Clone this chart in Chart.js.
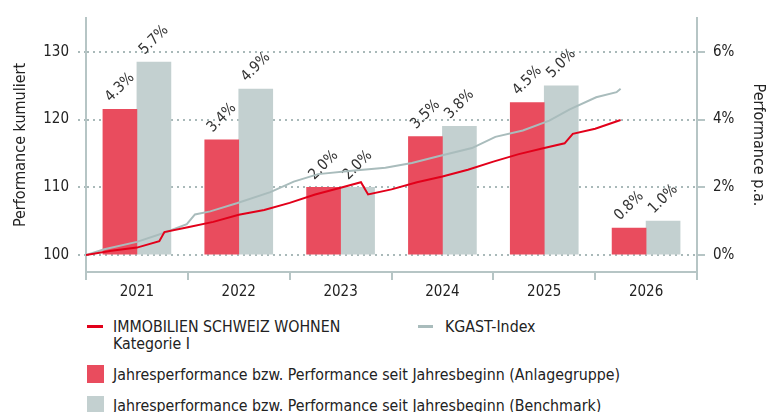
<!DOCTYPE html>
<html>
<head>
<meta charset="utf-8">
<script src="https://cdn.jsdelivr.net/npm/chart.js@4.4.1/dist/chart.umd.min.js"></script>
<style>
  body { margin: 0; background: #fff; }
  #wrap { position: relative; width: 778px; height: 412px; overflow: hidden; font-family: "DejaVu Sans Condensed", "DejaVu Sans", sans-serif; color: #222; }
  #chartbox { position: absolute; left: 0; top: 0; width: 778px; height: 300px; }
  .lg { position: absolute; font-size: 15.8px; line-height: 17px; white-space: nowrap; }
  .mark { position: absolute; }
</style>
</head>
<body>
<div id="wrap">
  <div id="chartbox"><canvas id="perf_chart"></canvas></div>
  <div id="legend"></div>
</div>
<script>
// categories and yearly performance (%)
const years = ['2021', '2022', '2023', '2024', '2025', '2026']
const fundPerf = [4.3, 3.4, 2.0, 3.5, 4.5, 0.8]
const benchPerf = [5.7, 4.9, 2.0, 3.8, 5.0, 1.0]

// cumulated performance (decimal year -> index)
const fundDates = [2021.00, 2021.25, 2021.50, 2021.72, 2021.77, 2022.00, 2022.25, 2022.50, 2022.75,
    2023.00, 2023.25, 2023.50, 2023.70, 2023.77, 2024.00, 2024.25, 2024.50, 2024.75,
    2025.00, 2025.25, 2025.50, 2025.70, 2025.78, 2026.00, 2026.25]
const fundIndex = [100.0, 100.65, 101.1, 102.05, 103.4, 104.1, 104.9, 105.95, 106.65,
    107.7, 108.95, 109.95, 110.75, 108.95, 109.7, 110.75, 111.6, 112.6,
    113.8, 114.9, 115.8, 116.5, 117.9, 118.65, 119.95]
const kgastDates = [2021.00, 2021.18, 2021.50, 2021.77, 2021.99, 2022.07, 2022.22, 2022.48, 2022.81,
    2023.04, 2023.28, 2023.61, 2023.94, 2024.20, 2024.46, 2024.79, 2025.02, 2025.29,
    2025.55, 2025.75, 2026.01, 2026.21, 2026.25]
const kgastIndex = [100.0, 100.85, 101.95, 103.3, 104.55, 106.0, 106.45, 107.65, 109.3,
    110.85, 111.95, 112.45, 112.9, 113.6, 114.6, 115.8, 117.45, 118.4,
    119.85, 121.5, 123.3, 124.05, 124.55]

const leftTicks = [100, 110, 120, 130]
const rightTicks = [0, 2, 4, 6]

const FONT = '"DejaVu Sans Condensed", "DejaVu Sans", sans-serif'
const AXIS = '#b6c5c5'
const RED_BAR = '#e94c5e'
const GREY_BAR = '#c3d0d0'
const RED_LINE = '#e2001a'
const GREY_LINE = '#a9bcbc'

Chart.defaults.font.family = FONT
Chart.defaults.color = '#222'

const toPoints = (xs, ys) => xs.map((x, i) => ({ x: x, y: ys[i] }))

// rotated % labels above each bar
const barLabels = {
    id: 'barLabels',
    afterDatasetDraw(chart, args) {
        const ds = chart.data.datasets[args.index]
        if (ds.type !== 'bar') return
        const ctx = chart.ctx
        args.meta.data.forEach((bar, i) => {
            ctx.save()
            ctx.translate(bar.x, bar.y - 22)
            ctx.rotate(-Math.PI / 4)
            ctx.font = '15px ' + FONT
            ctx.fillStyle = '#333'
            ctx.textAlign = 'center'
            ctx.textBaseline = 'middle'
            ctx.fillText(ds.data[i].toFixed(1) + '%', 0, 0)
            ctx.restore()
        })
    }
}

const perfChart = new Chart(document.getElementById('perf_chart'), {
    type: 'bar',
    data: {
        labels: years,
        datasets: [
            {
                type: 'line',
                label: 'IMMOBILIEN SCHWEIZ WOHNEN\nKategorie I',
                data: toPoints(fundDates, fundIndex),
                xAxisID: 'x2', yAxisID: 'y',
                borderColor: RED_LINE, borderWidth: 2, pointRadius: 0, order: 0
            },
            {
                type: 'line',
                label: 'KGAST-Index',
                data: toPoints(kgastDates, kgastIndex),
                xAxisID: 'x2', yAxisID: 'y',
                borderColor: GREY_LINE, borderWidth: 2, pointRadius: 0, order: 0
            },
            {
                type: 'bar',
                label: 'Jahresperformance bzw. Performance seit Jahresbeginn (Anlagegruppe)',
                data: fundPerf,
                xAxisID: 'x', yAxisID: 'y1',
                backgroundColor: RED_BAR, order: 1,
                barThickness: 34
            },
            {
                type: 'bar',
                label: 'Jahresperformance bzw. Performance seit Jahresbeginn (Benchmark)',
                data: benchPerf,
                xAxisID: 'x', yAxisID: 'y1',
                backgroundColor: GREY_BAR, order: 1,
                barThickness: 34
            }
        ]
    },
    options: {
        responsive: true,
        maintainAspectRatio: false,
        animation: false,
        layout: { padding: { top: 13 } },
        plugins: { legend: { display: false }, tooltip: { enabled: false } },
        scales: {
            x: {
                type: 'category',
                offset: true,
                grid: { offset: true, drawOnChartArea: false, tickLength: 8, color: AXIS, lineWidth: 2 },
                border: { color: AXIS, width: 2 },
                ticks: { font: { size: 15 }, padding: 3, color: '#222' },
                afterFit: scale => { scale.height = 28 }
            },
            x2: { type: 'linear', min: 2021, max: 2027, offset: false, display: false, grid: { offset: false } },
            y: {
                position: 'left',
                min: 97.5, max: 135,
                afterBuildTicks: scale => { scale.ticks = leftTicks.map(v => ({ value: v })) },
                grid: { color: '#a9b9b9', lineWidth: 2, tickLength: 8, tickBorderDash: [2, 4] },
                border: { color: AXIS, width: 2, dash: [2, 4] },
                ticks: { font: { size: 15 }, padding: 9, color: '#222' },
                title: { display: true, text: 'Performance kumuliert', font: { size: 16 }, padding: { top: 11 }, color: '#222' },
                afterFit: scale => { scale.width = 86 }
            },
            y1: {
                position: 'right',
                min: -0.5, max: 7,
                afterBuildTicks: scale => { scale.ticks = rightTicks.map(v => ({ value: v })) },
                grid: { drawOnChartArea: false, color: AXIS, lineWidth: 2, tickLength: 8 },
                border: { color: AXIS, width: 2 },
                ticks: { font: { size: 15 }, padding: 8, color: '#222', callback: v => v + '%' },
                title: { display: true, text: 'Performance p.a.', font: { size: 16 }, padding: { top: 10 }, color: '#222' },
                afterFit: scale => { scale.width = 81 }
            }
        }
    },
    plugins: [barLabels]
})

// legend below the chart, built from the datasets
const LEGEND = document.getElementById('legend')
const ds = perfChart.data.datasets
const legendItems = [
    { set: ds[0], kind: 'line', mx: 87, mw: 16, tx: 113, ty: 318 },
    { set: ds[1], kind: 'line', mx: 418, mw: 15, tx: 445, ty: 318 },
    { set: ds[2], kind: 'box', mx: 87, mw: 17, tx: 113, ty: 366 },
    { set: ds[3], kind: 'box', mx: 87, mw: 17, tx: 113, ty: 397 }
]
for (let item of legendItems) {
    let mark = document.createElement('div')
    mark.className = 'mark'
    mark.style.left = item.mx + 'px'
    mark.style.width = item.mw + 'px'
    if (item.kind === 'line') {
        mark.style.top = (item.ty + 7) + 'px'
        mark.style.height = '3px'
        mark.style.background = item.set.borderColor
    } else {
        mark.style.top = (item.ty - 1) + 'px'
        mark.style.height = '18px'
        mark.style.background = item.set.backgroundColor
    }
    LEGEND.appendChild(mark)

    let text = document.createElement('div')
    text.className = 'lg'
    text.style.left = item.tx + 'px'
    text.style.top = item.ty + 'px'
    text.innerText = item.set.label
    LEGEND.appendChild(text)
}
</script>
</body>
</html>
